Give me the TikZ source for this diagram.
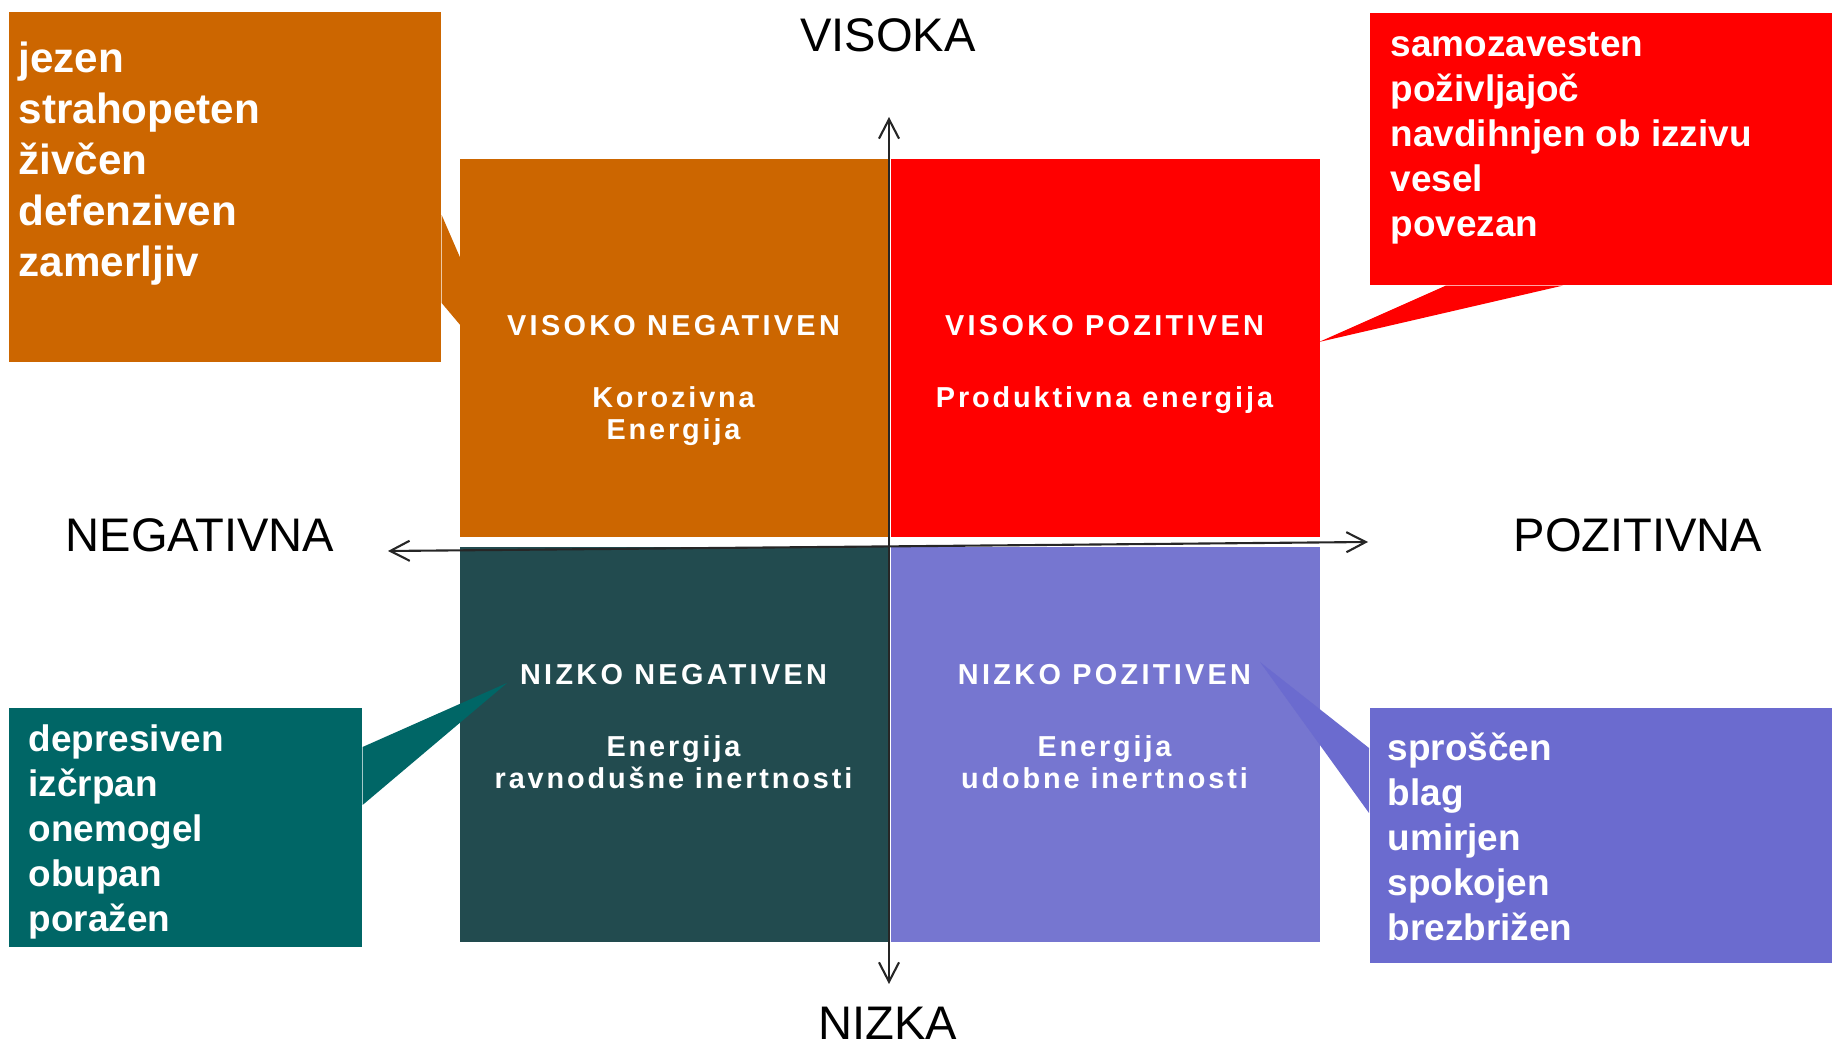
\documentclass[tikz,border=0pt]{standalone}
\usepackage{fontspec}
\setmainfont{Liberation Sans}
\usepackage{tikz}
\usetikzlibrary{arrows.meta, positioning, calc}

\definecolor{hinegcol}{HTML}{CC6600}
\definecolor{hiposcol}{HTML}{FF0000}
\definecolor{lonegcol}{HTML}{224B4F}
\definecolor{loposcol}{HTML}{7676D0}
\definecolor{lonegcall}{HTML}{006666}
\definecolor{loposcall}{HTML}{6B6BCF}

\begin{document}
\begin{tikzpicture}[x=0.01cm, y=-0.01cm,
  >={Straight Barb[length=5.5pt,width=5.7pt]},
  quad/.style={rectangle, anchor=north west, inner sep=0pt, minimum width=4.29cm},
  callbox/.style={rectangle, anchor=north west, inner sep=0pt},
  qtitle/.style={anchor=base, text=white, inner sep=0pt, font=\fontsize{8.2}{9}\selectfont\bfseries\addfontfeature{LetterSpace=11.5}},
  qsub/.style={anchor=north, align=center, text=white, inner sep=0pt, font=\fontsize{8.2}{9.1}\selectfont\bfseries\addfontfeature{LetterSpace=10}},
  bigwords/.style={anchor=north west, align=left, text=white, inner sep=0pt, font=\fontsize{12}{14.5}\selectfont\bfseries},
  words/.style={anchor=north west, align=left, text=white, inner sep=0pt, font=\fontsize{10.5}{12.8}\selectfont\bfseries},
  axislabel/.style={anchor=base, inner sep=0pt, font=\fontsize{13.4}{16}\selectfont},
  axisline/.style={<->, line width=0.6pt, draw=black!85}]
\useasboundingbox (0,0) rectangle (1832,1046);

% Quadrants
\node[quad, fill=hinegcol, minimum height=3.78cm] (hineg) at (459,158) {};
\node[quad, fill=hiposcol, minimum height=3.78cm] (hipos) at (890,158) {};
\node[quad, fill=lonegcol, minimum height=3.95cm] (loneg) at (459,546) {};
\node[quad, fill=loposcol, minimum height=3.95cm] (lopos) at (890,546) {};

% Axes
\coordinate (up) at (889,117);
\coordinate (down) at (889,984);
\coordinate (left) at (388,551);
\coordinate (right) at (1368,542);
\draw[axisline] (down) -- (up);
\draw[axisline] (left) -- (right);

\node[axislabel] (visoka) at (888,52) {VISOKA};
\node[axislabel] (nizka) at (888,1040) {NIZKA};
\node[axislabel] (negativna) at (200,552) {NEGATIVNA};
\node[axislabel] (pozitivna) at (1638,552) {POZITIVNA};

% Callouts
\node[callbox, fill=hinegcol, minimum width=4.32cm, minimum height=3.5cm] (hinegbox) at (8,11) {};
\coordinate (hinegtip) at (520,396);
\fill[hinegcol] ($(hinegbox.north east)+(0,204)$) -- (hinegtip) -- ($(hinegbox.north east)+(0,292)$) -- cycle;

\node[callbox, fill=hiposcol, minimum width=4.63cm, minimum height=2.72cm] (hiposbox) at (1369,12) {};
\coordinate (hipostip) at (1319,342);
\fill[hiposcol] ($(hiposbox.south west)+(77,0)$) -- (hipostip) -- ($(hiposbox.south west)+(194,0)$) -- cycle;

\node[callbox, fill=lonegcall, minimum width=3.53cm, minimum height=2.39cm] (lonegbox) at (8,707) {};
\coordinate (lonegtip) at (507,683);
\fill[lonegcall] ($(lonegbox.north east)+(0,40)$) -- (lonegtip) -- ($(lonegbox.north east)+(0,98)$) -- cycle;

\node[callbox, fill=loposcall, minimum width=4.63cm, minimum height=2.55cm] (loposbox) at (1369,707) {};
\coordinate (lopostip) at (1260,662);
\fill[loposcall] ($(loposbox.north west)+(0,41)$) -- (lopostip) -- ($(loposbox.north west)+(0,106)$) -- cycle;

% Callout words
\node[bigwords] (hinegwords) at (18,41) {jezen\\strahopeten\\živčen\\defenziven\\zamerljiv};
\node[words] (hiposwords) at (1390,32) {samozavesten\\poživljajoč\\navdihnjen ob izzivu\\vesel\\povezan};
\node[words] (lonegwords) at (28,724) {depresiven\\izčrpan\\onemogel\\obupan\\poražen};
\node[words] (loposwords) at (1387,732) {sproščen\\blag\\umirjen\\spokojen\\brezbrižen};

% Quadrant texts
\node[qtitle] (hinegtitle) at (673.5,336) {VISOKO NEGATIVEN};
\node[qsub] (hinegsub) at (673.5,386) {Korozivna\\Energija};
\node[qtitle] (hipostitle) at (1104.5,336) {VISOKO POZITIVEN};
\node[qsub] (hipossub) at (1104.5,386) {Produktivna energija};
\node[qtitle] (lonegtitle) at (673.5,685) {NIZKO NEGATIVEN};
\node[qsub] (lonegsub) at (673.5,735) {Energija\\ravnodušne inertnosti};
\node[qtitle] (lopostitle) at (1104.5,685) {NIZKO POZITIVEN};
\node[qsub] (lopossub) at (1104.5,735) {Energija\\udobne inertnosti};
\end{tikzpicture}
\end{document}
